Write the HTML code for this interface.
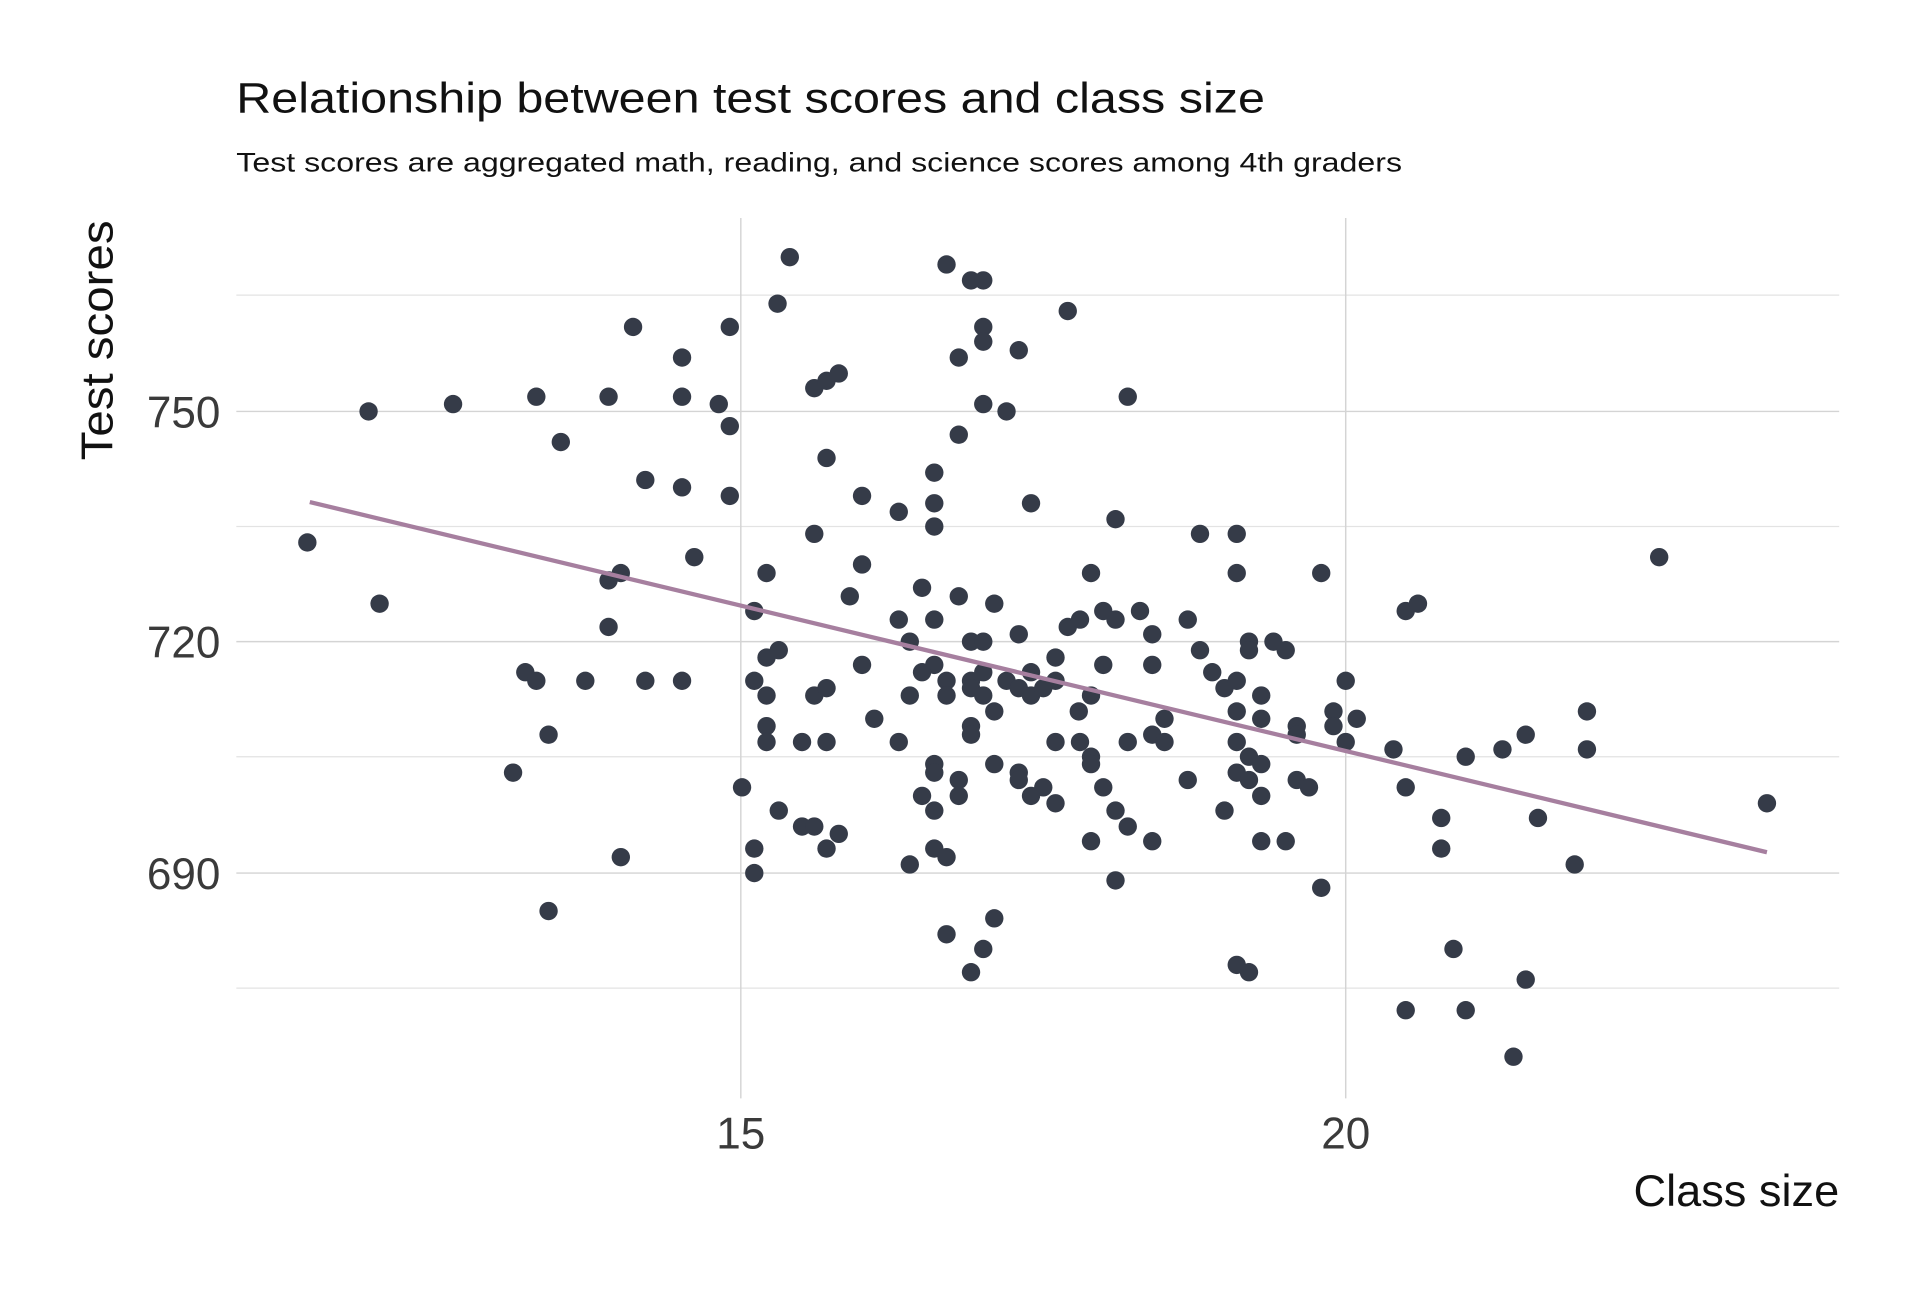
<!DOCTYPE html>
<html><head><meta charset="utf-8"><style>html,body{margin:0;padding:0;background:#fff}svg{display:block}</style></head>
<body>
<svg width="1920" height="1296" viewBox="0 0 1568 1058.4" xmlns="http://www.w3.org/2000/svg" font-family="Liberation Sans, sans-serif">
<rect width="1568" height="1060" fill="#fff"/>
<g stroke="#e3e3e3" stroke-width="1">
<line x1="193" x2="1502" y1="241" y2="241"/><line x1="193" x2="1502" y1="430" y2="430"/><line x1="193" x2="1502" y1="618" y2="618"/><line x1="193" x2="1502" y1="807" y2="807"/>
</g>
<g stroke="#d4d4d4" stroke-width="1.2">
<line x1="193" x2="1502" y1="336" y2="336"/><line x1="193" x2="1502" y1="524" y2="524"/><line x1="193" x2="1502" y1="713" y2="713"/>
<line x1="605" x2="605" y1="178" y2="897"/><line x1="1099" x2="1099" y1="178" y2="897"/>
</g>
<text x="193" y="92" font-size="35" fill="#111" textLength="840" lengthAdjust="spacingAndGlyphs">Relationship between test scores and class size</text>
<text x="193" y="140" font-size="22" fill="#111" textLength="952" lengthAdjust="spacingAndGlyphs">Test scores are aggregated math, reading, and science scores among 4th graders</text>
<g font-size="36" fill="#3a3a3a" text-anchor="end">
<text x="180" y="349">750</text><text x="180" y="537">720</text><text x="180" y="726">690</text>
</g>
<g font-size="36" fill="#3a3a3a" text-anchor="middle">
<text x="605" y="938">15</text><text x="1099" y="938">20</text>
</g>
<text x="1502" y="985" font-size="36" fill="#111" text-anchor="end" textLength="168" lengthAdjust="spacingAndGlyphs">Class size</text>
<text transform="translate(92,278) rotate(-90)" font-size="36" fill="#111" text-anchor="middle" textLength="196" lengthAdjust="spacingAndGlyphs">Test scores</text>
<g fill="#353b48">
<circle cx="251" cy="443" r="7.5"/><circle cx="301" cy="336" r="7.5"/><circle cx="310" cy="493" r="7.5"/><circle cx="370" cy="330" r="7.5"/><circle cx="438" cy="324" r="7.5"/><circle cx="497" cy="324" r="7.5"/><circle cx="458" cy="361" r="7.5"/><circle cx="527" cy="392" r="7.5"/><circle cx="557" cy="292" r="7.5"/><circle cx="557" cy="324" r="7.5"/><circle cx="557" cy="398" r="7.5"/><circle cx="517" cy="267" r="7.5"/><circle cx="596" cy="267" r="7.5"/><circle cx="587" cy="330" r="7.5"/><circle cx="596" cy="348" r="7.5"/><circle cx="596" cy="405" r="7.5"/><circle cx="567" cy="455" r="7.5"/><circle cx="507" cy="468" r="7.5"/><circle cx="497" cy="474" r="7.5"/><circle cx="497" cy="512" r="7.5"/><circle cx="429" cy="549" r="7.5"/><circle cx="438" cy="556" r="7.5"/><circle cx="478" cy="556" r="7.5"/><circle cx="527" cy="556" r="7.5"/><circle cx="557" cy="556" r="7.5"/><circle cx="448" cy="600" r="7.5"/><circle cx="419" cy="631" r="7.5"/><circle cx="507" cy="700" r="7.5"/><circle cx="448" cy="744" r="7.5"/><circle cx="635" cy="248" r="7.5"/><circle cx="645" cy="210" r="7.5"/><circle cx="665" cy="317" r="7.5"/><circle cx="675" cy="311" r="7.5"/><circle cx="685" cy="305" r="7.5"/><circle cx="675" cy="374" r="7.5"/><circle cx="665" cy="436" r="7.5"/><circle cx="626" cy="468" r="7.5"/><circle cx="616" cy="499" r="7.5"/><circle cx="704" cy="405" r="7.5"/><circle cx="704" cy="461" r="7.5"/><circle cx="694" cy="487" r="7.5"/><circle cx="734" cy="418" r="7.5"/><circle cx="763" cy="386" r="7.5"/><circle cx="763" cy="411" r="7.5"/><circle cx="763" cy="430" r="7.5"/><circle cx="773" cy="216" r="7.5"/><circle cx="793" cy="229" r="7.5"/><circle cx="803" cy="229" r="7.5"/><circle cx="803" cy="267" r="7.5"/><circle cx="803" cy="279" r="7.5"/><circle cx="783" cy="292" r="7.5"/><circle cx="832" cy="286" r="7.5"/><circle cx="803" cy="330" r="7.5"/><circle cx="822" cy="336" r="7.5"/><circle cx="783" cy="355" r="7.5"/><circle cx="872" cy="254" r="7.5"/><circle cx="921" cy="324" r="7.5"/><circle cx="842" cy="411" r="7.5"/><circle cx="911" cy="424" r="7.5"/><circle cx="980" cy="436" r="7.5"/><circle cx="1010" cy="436" r="7.5"/><circle cx="891" cy="468" r="7.5"/><circle cx="1010" cy="468" r="7.5"/><circle cx="1079" cy="468" r="7.5"/><circle cx="1355" cy="455" r="7.5"/><circle cx="1148" cy="499" r="7.5"/><circle cx="1158" cy="493" r="7.5"/><circle cx="753" cy="480" r="7.5"/><circle cx="783" cy="487" r="7.5"/><circle cx="812" cy="493" r="7.5"/><circle cx="734" cy="506" r="7.5"/><circle cx="763" cy="506" r="7.5"/><circle cx="743" cy="524" r="7.5"/><circle cx="793" cy="524" r="7.5"/><circle cx="803" cy="524" r="7.5"/><circle cx="832" cy="518" r="7.5"/><circle cx="872" cy="512" r="7.5"/><circle cx="882" cy="506" r="7.5"/><circle cx="901" cy="499" r="7.5"/><circle cx="911" cy="506" r="7.5"/><circle cx="931" cy="499" r="7.5"/><circle cx="970" cy="506" r="7.5"/><circle cx="941" cy="518" r="7.5"/><circle cx="980" cy="531" r="7.5"/><circle cx="1020" cy="524" r="7.5"/><circle cx="1020" cy="531" r="7.5"/><circle cx="1040" cy="524" r="7.5"/><circle cx="1050" cy="531" r="7.5"/><circle cx="626" cy="537" r="7.5"/><circle cx="636" cy="531" r="7.5"/><circle cx="704" cy="543" r="7.5"/><circle cx="763" cy="543" r="7.5"/><circle cx="753" cy="549" r="7.5"/><circle cx="773" cy="556" r="7.5"/><circle cx="793" cy="556" r="7.5"/><circle cx="803" cy="549" r="7.5"/><circle cx="822" cy="556" r="7.5"/><circle cx="842" cy="549" r="7.5"/><circle cx="862" cy="537" r="7.5"/><circle cx="862" cy="556" r="7.5"/><circle cx="832" cy="562" r="7.5"/><circle cx="842" cy="568" r="7.5"/><circle cx="852" cy="562" r="7.5"/><circle cx="793" cy="562" r="7.5"/><circle cx="773" cy="568" r="7.5"/><circle cx="803" cy="568" r="7.5"/><circle cx="616" cy="556" r="7.5"/><circle cx="626" cy="568" r="7.5"/><circle cx="665" cy="568" r="7.5"/><circle cx="675" cy="562" r="7.5"/><circle cx="743" cy="568" r="7.5"/><circle cx="812" cy="581" r="7.5"/><circle cx="881" cy="581" r="7.5"/><circle cx="891" cy="568" r="7.5"/><circle cx="901" cy="543" r="7.5"/><circle cx="941" cy="543" r="7.5"/><circle cx="990" cy="549" r="7.5"/><circle cx="1000" cy="562" r="7.5"/><circle cx="1010" cy="556" r="7.5"/><circle cx="1030" cy="568" r="7.5"/><circle cx="1010" cy="581" r="7.5"/><circle cx="1099" cy="556" r="7.5"/><circle cx="1089" cy="581" r="7.5"/><circle cx="1108" cy="587" r="7.5"/><circle cx="1030" cy="587" r="7.5"/><circle cx="1059" cy="593" r="7.5"/><circle cx="1059" cy="600" r="7.5"/><circle cx="1089" cy="593" r="7.5"/><circle cx="1099" cy="606" r="7.5"/><circle cx="1138" cy="612" r="7.5"/><circle cx="1197" cy="618" r="7.5"/><circle cx="1227" cy="612" r="7.5"/><circle cx="1246" cy="600" r="7.5"/><circle cx="1296" cy="581" r="7.5"/><circle cx="1296" cy="612" r="7.5"/><circle cx="714" cy="587" r="7.5"/><circle cx="626" cy="593" r="7.5"/><circle cx="626" cy="606" r="7.5"/><circle cx="655" cy="606" r="7.5"/><circle cx="675" cy="606" r="7.5"/><circle cx="734" cy="606" r="7.5"/><circle cx="793" cy="593" r="7.5"/><circle cx="793" cy="600" r="7.5"/><circle cx="862" cy="606" r="7.5"/><circle cx="882" cy="606" r="7.5"/><circle cx="891" cy="618" r="7.5"/><circle cx="891" cy="624" r="7.5"/><circle cx="921" cy="606" r="7.5"/><circle cx="941" cy="600" r="7.5"/><circle cx="951" cy="606" r="7.5"/><circle cx="951" cy="587" r="7.5"/><circle cx="1010" cy="606" r="7.5"/><circle cx="1020" cy="618" r="7.5"/><circle cx="1030" cy="624" r="7.5"/><circle cx="1010" cy="631" r="7.5"/><circle cx="1020" cy="637" r="7.5"/><circle cx="763" cy="624" r="7.5"/><circle cx="763" cy="631" r="7.5"/><circle cx="812" cy="624" r="7.5"/><circle cx="832" cy="631" r="7.5"/><circle cx="832" cy="637" r="7.5"/><circle cx="783" cy="637" r="7.5"/><circle cx="852" cy="643" r="7.5"/><circle cx="842" cy="650" r="7.5"/><circle cx="862" cy="656" r="7.5"/><circle cx="901" cy="643" r="7.5"/><circle cx="970" cy="637" r="7.5"/><circle cx="1059" cy="637" r="7.5"/><circle cx="1069" cy="643" r="7.5"/><circle cx="1030" cy="650" r="7.5"/><circle cx="1000" cy="662" r="7.5"/><circle cx="1148" cy="643" r="7.5"/><circle cx="1177" cy="668" r="7.5"/><circle cx="1256" cy="668" r="7.5"/><circle cx="1443" cy="656" r="7.5"/><circle cx="606" cy="643" r="7.5"/><circle cx="636" cy="662" r="7.5"/><circle cx="753" cy="650" r="7.5"/><circle cx="763" cy="662" r="7.5"/><circle cx="783" cy="650" r="7.5"/><circle cx="911" cy="662" r="7.5"/><circle cx="921" cy="675" r="7.5"/><circle cx="655" cy="675" r="7.5"/><circle cx="665" cy="675" r="7.5"/><circle cx="685" cy="681" r="7.5"/><circle cx="675" cy="693" r="7.5"/><circle cx="616" cy="693" r="7.5"/><circle cx="616" cy="713" r="7.5"/><circle cx="743" cy="706" r="7.5"/><circle cx="763" cy="693" r="7.5"/><circle cx="773" cy="700" r="7.5"/><circle cx="891" cy="687" r="7.5"/><circle cx="941" cy="687" r="7.5"/><circle cx="1030" cy="687" r="7.5"/><circle cx="1050" cy="687" r="7.5"/><circle cx="1177" cy="693" r="7.5"/><circle cx="1286" cy="706" r="7.5"/><circle cx="911" cy="719" r="7.5"/><circle cx="1079" cy="725" r="7.5"/><circle cx="812" cy="750" r="7.5"/><circle cx="773" cy="763" r="7.5"/><circle cx="803" cy="775" r="7.5"/><circle cx="793" cy="794" r="7.5"/><circle cx="1010" cy="788" r="7.5"/><circle cx="1020" cy="794" r="7.5"/><circle cx="1187" cy="775" r="7.5"/><circle cx="1246" cy="800" r="7.5"/><circle cx="1148" cy="825" r="7.5"/><circle cx="1197" cy="825" r="7.5"/><circle cx="1236" cy="863" r="7.5"/>
</g>
<line x1="253" y1="410" x2="1443" y2="696" stroke="#a67f9f" stroke-width="3.5"/>
</svg>
</body></html>
